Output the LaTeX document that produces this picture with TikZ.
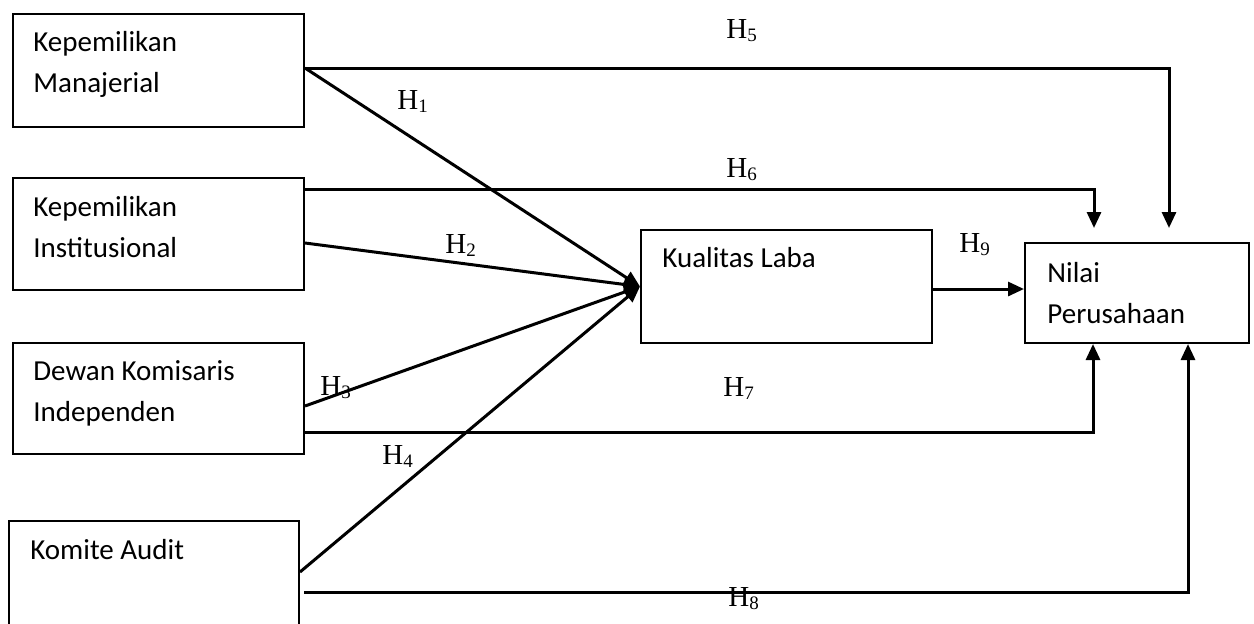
\documentclass[tikz,border=0pt]{standalone}
\usepackage{fontspec}
\setmainfont{Carlito}
\newfontfamily\hfont{Liberation Serif}
\usetikzlibrary{arrows.meta,calc}
\newcommand\hyp[1]{{\hfont\fontsize{14.5}{16}\selectfont H\raisebox{-1.7pt}{\fontsize{9.5}{10}\selectfont #1}}}
\tikzset{
  box/.style={draw, line width=1pt, inner sep=0pt, anchor=north west},
  lbl/.style={font=\fontsize{14.5}{20.5}\selectfont, align=left, anchor=base west, inner sep=0pt},
  hl/.style={anchor=base west, inner sep=0pt},
  ln/.style={line width=1.4pt},
  arr/.style={line width=1.5pt, -{Triangle[length=8pt,width=7pt]}}
}
\begin{document}
\begin{tikzpicture}[x=0.5pt,y=-0.5pt]
\useasboundingbox (0,0) rectangle (1254,623);
\clip (0,0) rectangle (1254,623);
% boxes
\node[box, minimum width=145.5pt, minimum height=56.5pt] (b1) at (12,13) {};
\node[box, minimum width=145.5pt, minimum height=56pt] (b2) at (12,177) {};
\node[box, minimum width=145.5pt, minimum height=55.5pt] (b3) at (12,342) {};
\node[box, minimum width=145pt, minimum height=60pt] (b4) at (8,520) {};
\node[box, minimum width=145.5pt, minimum height=56.5pt] (kl) at (640,229) {};
\node[box, minimum width=112pt, minimum height=50pt] (np) at (1024,242) {};
% box texts (anchor = baseline of last line)
\node[lbl] (t1) at (33,92) {Kepemilikan\\Manajerial};
\node[lbl] (t2) at (33,257) {Kepemilikan\\Institusional};
\node[lbl] (t3) at (33,421) {Dewan Komisaris\\Independen};
\node[lbl] (t4) at (30,559) {Komite Audit};
\node[lbl] (tk) at (662,267) {Kualitas Laba};
\node[lbl] (tn) at (1047,323) {Nilai\\Perusahaan};
% connectors
\draw[arr] ($(b1.north east)+(0,55)$) coordinate (s1) -- (kl.west);
\draw[arr] (s1) -| ($(np.north west)+(145,-14)$);
\draw[arr] ($(b2.north east)+(0,12)$) -| ($(np.north west)+(70,-14)$);
\draw[arr] ($(b2.north east)+(0,66)$) -- (kl.west);
\draw[arr] ($(b3.north east)+(0,64)$) -- (kl.west);
\draw[arr] ($(b3.north east)+(0,90)$) -| ($(np.south west)+(69,0)$);
\draw[arr] ($(b4.north east)+(0,52)$) -- (kl.west);
\draw[arr] ($(b4.north east)+(4,72)$) -| ($(np.south west)+(164,0)$);
\draw[arr] ($(kl.north east)+(0,60)$) coordinate (s9) -- (s9 -| np.west);
% hypothesis labels
\node[hl] (h1) at (397,109) {\hyp{1}};
\node[hl] (h2) at (445,253) {\hyp{2}};
\node[hl] (h3) at (320,395) {\hyp{3}};
\node[hl] (h4) at (382,464) {\hyp{4}};
\node[hl] (h5) at (726,38) {\hyp{5}};
\node[hl] (h6) at (726,177) {\hyp{6}};
\node[hl] (h7) at (723,396) {\hyp{7}};
\node[hl] (h8) at (728,606) {\hyp{8}};
\node[hl] (h9) at (959,252) {\hyp{9}};
\end{tikzpicture}
\end{document}
